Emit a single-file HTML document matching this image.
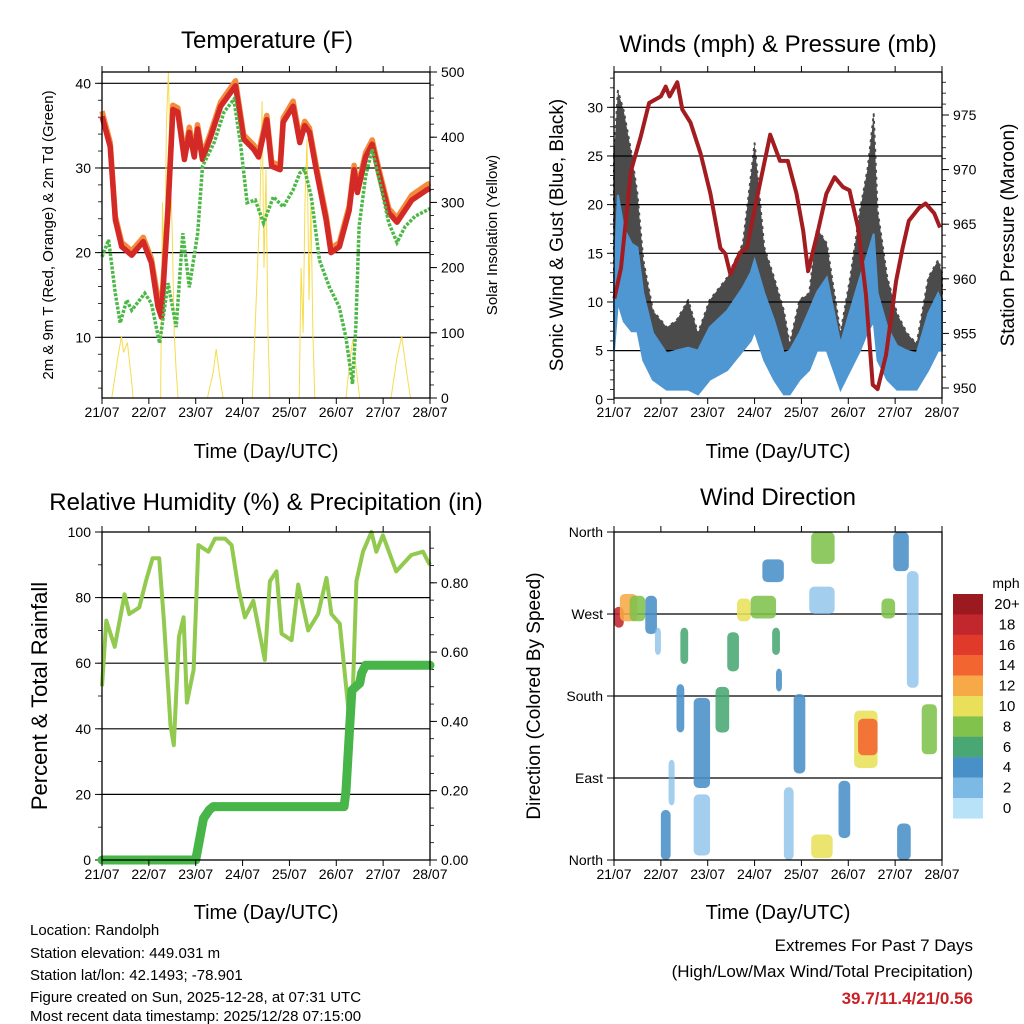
<!DOCTYPE html>
<html><head><meta charset="utf-8"><style>
html,body{margin:0;padding:0;background:#fff}
svg{display:block;font-family:"Liberation Sans",sans-serif}
</style></head><body>
<svg id="s" width="1024" height="1024" viewBox="0 0 1024 1024" xmlns="http://www.w3.org/2000/svg">
<g id="g"></g>
<text x="267" y="48" font-size="24" text-anchor="middle">Temperature (F)</text>
<text x="778" y="52" font-size="24" text-anchor="middle">Winds (mph) &amp; Pressure (mb)</text>
<text x="266" y="510" font-size="24" text-anchor="middle">Relative Humidity (%) &amp; Precipitation (in)</text>
<text x="778" y="505" font-size="24" text-anchor="middle">Wind Direction</text>
<text x="266" y="458" font-size="20" text-anchor="middle">Time (Day/UTC)</text>
<text x="778" y="458" font-size="20" text-anchor="middle">Time (Day/UTC)</text>
<text x="266" y="919" font-size="20" text-anchor="middle">Time (Day/UTC)</text>
<text x="778" y="919" font-size="20" text-anchor="middle">Time (Day/UTC)</text>
<text transform="translate(53,235) rotate(-90)" font-size="15" text-anchor="middle">2m &amp; 9m T (Red, Orange) &amp; 2m Td (Green)</text>
<text transform="translate(497,235) rotate(-90)" font-size="15" text-anchor="middle">Solar Insolation (Yellow)</text>
<text transform="translate(563,235) rotate(-90)" font-size="19" text-anchor="middle">Sonic Wind &amp; Gust (Blue, Black)</text>
<text transform="translate(1014,235) rotate(-90)" font-size="19" text-anchor="middle">Station Pressure (Maroon)</text>
<text transform="translate(47,696) rotate(-90)" font-size="22" text-anchor="middle">Percent &amp; Total Rainfall</text>
<text transform="translate(540,696) rotate(-90)" font-size="19" text-anchor="middle">Direction (Colored By Speed)</text>
<g font-size="15">
<text x="30" y="935">Location: Randolph</text>
<text x="30" y="958">Station elevation: 449.031 m</text>
<text x="30" y="980">Station lat/lon: 42.1493; -78.901</text>
<text x="30" y="1002">Figure created on Sun, 2025-12-28, at 07:31 UTC</text>
<text x="30" y="1024" dy="-3">Most recent data timestamp: 2025/12/28 07:15:00</text>
</g>
<g font-size="17" text-anchor="end">
<text x="973" y="951">Extremes For Past 7 Days</text>
<text x="973" y="977">(High/Low/Max Wind/Total Precipitation)</text>
<text x="973" y="1004" fill="#c82229" font-weight="bold">39.7/11.4/21/0.56</text>
</g>
</svg>
<script>
// ---- data ----
var dayLabels=["21/07","22/07","23/07","24/07","25/07","26/07","27/07","28/07"];
var tHours=[0,4.2,6.8,10.1,15.2,21.1,25.3,28.7,30.4,33.8,36.3,38.8,42.2,44.7,47.3,48.9,51.5,55.7,60.8,68.4,72.6,77.7,80.2,84.4,86.9,91.2,92.8,97.9,101.3,103.8,106.3,109.7,114.8,117.3,121.6,126.6,129.1,130.8,135,138.4,141.8,146.9,151.1,158.7,166.3,168];
var tempRed=[36.1,32.5,23.9,20.7,19.7,21.3,18.8,13.6,12.4,25,36.9,36.6,31,34.2,31.3,34.6,31,33.7,37.3,39.7,33.4,32.2,31.3,35.7,30.2,29.8,35.4,37.3,33,35,34.2,29.8,23.9,20,20.7,25,29.8,27.1,31.3,32.8,29.4,24.7,23.6,26.2,27.4,27.6];
var tempOrange=[36.7,33,24.3,21.2,20.2,21.8,19.3,14.6,13.4,25.5,37.4,37.1,31.5,34.8,31.8,35.1,31.5,34.2,37.8,40.3,33.9,32.7,31.8,36.2,30.7,30.3,35.9,37.9,33.5,35.5,34.7,30.3,24.4,20.5,21.2,25.5,30.3,27.6,31.8,33.3,29.9,25.2,24.1,26.8,28,28.2];
var tdHours=[0,3.4,6.8,9.3,12.7,15.2,21.9,25.3,29.5,33.8,38,41.4,44.7,49,51.5,57.4,62.5,67.5,70.9,74.3,78.5,82.7,87.8,92.8,97.9,101.3,103.8,107.2,111.4,116.5,121.5,124.9,128.3,130,131.7,135,138.4,143.5,146.9,151.1,155.3,160.4,166.3,168];
var dewpoint=[19.5,21.5,15.2,11.7,14.4,13.2,15.2,14,9.3,16.4,11.2,22.3,15.9,22.3,30.2,33,36.6,38.1,33,25.9,26.2,23.5,26.6,25.4,27.4,29.4,29.8,26.6,19.1,15.9,13.6,10,4.5,11.2,23.1,29,32.2,27.1,23.5,21.2,23.1,24.3,25,25.2];
var solarHours=[0,5,8,10,11,13,15,16,30,31,32,33,34,35,36,37,38,39,54,57,58.5,60,62,77,79,81,82,83,84,85,86,101,102,103,104,105,106,107,108,109,125,127,128.5,130,132,148,151,153.5,156,158,168];
var solar=[0,0,60,95,70,85,30,0,0,300,150,420,500,350,250,100,40,0,0,40,75,40,0,0,150,300,455,200,350,100,0,0,200,100,300,397,150,300,100,0,0,60,90,50,0,0,60,95,40,0,0];
var pHours=[0.2,3.6,8.7,13.7,18,24,26.5,28.5,32.4,35,39.2,44.3,49.4,54.5,57,59.6,64.6,68,73,80,85,89,93.5,96.9,99.4,104.5,108.8,113,117.3,120.6,125,129,132.5,135,139.3,144.5,147.8,151,156.3,159.6,164,167];
var pressure=[958.2,961,969.9,973,976.1,976.7,977.6,976.7,978,975.5,974.3,971.5,967.8,962.8,962.3,960.4,962.4,962.8,967.2,973.2,970.8,970.8,967.8,964.4,960.7,964.4,967.8,969.3,968.4,968.1,964.7,958.6,950.3,949.9,953,959.8,962.8,965.3,966.5,966.9,966,964.7];
var windHours=[0,2,5,9,12,15,20,27,32,38,43,49,58,66,70,72,77,82,87,90,95,100,104,109,116,121,126,130,133,135,140,145,150,155,161,166,168];
var gust=[25,31.7,29.6,25.2,21.1,14.3,9.1,7.4,8.1,10.2,6.8,10.2,12.5,16,22.8,26.3,15.6,12.5,9.1,5.7,10.2,10.9,17.6,16,6.8,12.5,19.4,23.8,29.3,19.4,12.5,8.8,6.8,5.7,12.5,14.3,13];
var sonicHi=[12,21,17.6,16,15.6,10.9,6.8,4.7,5,5.3,5,7.4,9.1,11.5,13,14.3,10.9,8.1,4.7,5,6.8,9.1,11,12.5,5.7,9.1,12.5,15,17,10.9,7.4,5.5,5,4.7,8.8,10.9,10];
var sonicLo=[5,10,8,7,7,4,2,1,1,1,0.5,2,3,5,6,7,4,2,0.5,0.5,2,3,5,5,1,3,5,7,8,4,2,1,1,1,3,5,5];
var rhHours=[0,2.2,6.5,11.6,14,19.1,22.5,25.9,29.3,31.7,35.1,36.8,39.4,41.8,43.5,46.9,49.4,54.5,57.9,63,66.4,69.8,73.2,77.5,83.4,86,89.4,92,97.1,100.5,105.6,110.7,115,117.5,121.8,127.7,130.3,133.7,138,140.5,143.9,150.7,158.4,164.4,167,168];
var rh=[53,73,65,81,75,77,85,92,92,73,41,35,68,74,48,58,96,94,98,98,96,83,74,79,61,85,88,69,67,84,70,75,86,75,72,37,85,94,100,94,99,88,93,94,91,90];
var precipHours=[0,48,50,52,55,57,124,125,126,127,128,132,133,135,168];
var precip=[0,0,0.06,0.12,0.145,0.154,0.154,0.2,0.3,0.4,0.49,0.51,0.54,0.562,0.562];
var dirStartHour=[0,3,8,16,21,24,28,32,34,38,38,52,58,63,70,76,81,83,90,87,101,100,101,115,119,125,137,143,148,155,145];
var dirEndHour=[5,12,16,22,24,29,31,36,38,52,52,59,64,70,83,87,85,86,100,92,113,113,112,121,139,135,144,151,158,168,152];
var dirLow=[255,262,262,248,225,0,60,140,215,79,5,140,207,262,265,305,225,185,95,0,325,270,2,24,101,115,265,317,189,116,0];
var dirHigh=[278,292,290,290,255,55,110,193,255,178,72,190,250,287,290,330,255,210,182,80,360,300,28,87,164,155,287,360,317,171,40];
var dirSpeed=[19,12,8,4,3,4,2,4,6,4,3,6,7,11,9,4,6,4,5,3,8,3,10,4,11,15,9,4,3,8,4];
var speedLabels=["20+","18","16","14","12","10","8","6","4","2","0"];
var speedColors=["#9b1a1f","#c1272d","#e03a2b","#f26530","#f8a947","#e8e05a","#80c24c","#48a772","#4a90c8","#7db9e5","#b7e2f8"];

// ---- helpers ----
var NS="http://www.w3.org/2000/svg",G=document.getElementById('g');
function mk(tag,at,parent){var e=document.createElementNS(NS,tag);for(var k in at)e.setAttribute(k,at[k]);(parent||G).appendChild(e);return e;}
function lin(d0,d1,r0,r1){return function(v){return r0+(v-d0)*(r1-r0)/(d1-d0);};}
function pathOf(xs,ys,fx,fy){var s='';for(var i=0;i<xs.length;i++)s+=(i?'L':'M')+fx(xs[i]).toFixed(1)+','+fy(ys[i]).toFixed(1);return s;}
function frame(L,T,R,B,name){
  var f=mk('rect',{x:L,y:T,width:R-L,height:B-T,fill:'none',stroke:'#000','stroke-width':1.3});
  
  
}
function xAxis(L,R,T,B,name){
  var fx=lin(0,168,L,R);
  for(var i=0;i<dayLabels.length;i++){
    var x=fx(i*24);
    var t=mk('line',{x1:x,x2:x,y1:B,y2:B+6,stroke:'#000','stroke-width':1});
    
    
    var t2=mk('line',{x1:x,x2:x,y1:T,y2:T-6,stroke:'#000','stroke-width':1});
    
    
    var lb=mk('text',{x:x,y:B+19,'font-size':14,'text-anchor':'middle'});
    lb.textContent=dayLabels[i];
    
    
  }
}
function yTicks(fy,vals,labels,x,side,grid,L,R,name,minor){
  for(var i=0;i<vals.length;i++){
    var y=fy(vals[i]);
    if(grid&&y>L.top+1&&y<L.bot-1){var g=mk('line',{x1:L.l,x2:L.r,y1:y,y2:y,stroke:'#000','stroke-width':1.2});
      
      }
    var tk=mk('line',{x1:x,x2:x+side*7,y1:y,y2:y,stroke:'#000','stroke-width':1});
    
    
    var lb=mk('text',{x:x+side*11,y:y+5,'font-size':14,'text-anchor':side<0?'end':'start'});
    lb.textContent=labels[i];
    
    
  }
  if(minor){for(var v=minor[0];v<=minor[1];v+=minor[2]){var yy=fy(v);if(yy<L.top||yy>L.bot)continue;
    var m=mk('line',{x1:x,x2:x+side*4,y1:yy,y2:yy,stroke:'#000','stroke-width':0.8});
    
    }}
}

// ---- panel 1: temperature ----
(function(){
  var L=102,R=430,T=72,B=398, fx=lin(0,168,L,R), fy=lin(10,40,337.3,83.3), fs=lin(0,500,398,72);
  var box={l:L,r:R,top:T,bot:B};
  yTicks(fy,[10,20,30,40],["10","20","30","40"],L,-1,true,box,R,'temp-y',[4,40,2]);
  yTicks(fs,[0,100,200,300,400,500],["0","100","200","300","400","500"],R,1,false,box,R,'solar-y',[0,500,20]);
  var s=mk('path',{d:pathOf(solarHours,solar,fx,fs),fill:'none',stroke:'#f5d83a','stroke-width':1,opacity:0.9});
  
  
  var o=mk('path',{d:pathOf(tHours,tempOrange,fx,fy),fill:'none',stroke:'#f58a3a','stroke-width':5.5,'stroke-linejoin':'round'});
  
  
  var r=mk('path',{d:pathOf(tHours,tempRed,fx,fy),fill:'none',stroke:'#d42a27','stroke-width':5.5,'stroke-linejoin':'round'});
  
  
  var d=mk('path',{d:pathOf(tdHours,dewpoint,fx,fy),fill:'none',stroke:'#4cb848','stroke-width':3.5,'stroke-dasharray':'3 1.5'});
  
  
  frame(L,T,R,B,'temp');
  xAxis(L,R,T,B,'temp');
})();

// ---- panel 2: winds & pressure ----
(function(){
  var L=614,R=942,T=72,B=398, fx=lin(0,168,L,R), fy=lin(0,30,399.3,107.3), fp=lin(975,950,115,388);
  var box={l:L,r:R,top:T,bot:B};
  yTicks(fy,[0,5,10,15,20,25,30],["0","5","10","15","20","25","30"],L,-1,true,box,R,'wind-y',[0,33,1]);
  yTicks(fp,[950,955,960,965,970,975],["950","955","960","965","970","975"],R,1,false,box,R,'pressure-y',[949,978,1]);
  var up='',i;
  for(i=0;i<windHours.length;i++)up+=(i?'L':'M')+fx(windHours[i]).toFixed(1)+','+fy(gust[i]).toFixed(1);
  for(i=windHours.length-1;i>=0;i--)up+='L'+fx(windHours[i]).toFixed(1)+','+fy(sonicHi[i]).toFixed(1);
  var ga=mk('path',{d:up+'Z',fill:'#000',opacity:0.7,stroke:'#000','stroke-width':2,'stroke-dasharray':'3 4','stroke-linejoin':'round'});
  
  
  var lo='';
  for(i=0;i<windHours.length;i++)lo+=(i?'L':'M')+fx(windHours[i]).toFixed(1)+','+fy(sonicHi[i]).toFixed(1);
  for(i=windHours.length-1;i>=0;i--)lo+='L'+fx(windHours[i]).toFixed(1)+','+fy(sonicLo[i]).toFixed(1);
  var sa=mk('path',{d:lo+'Z',fill:'#4f97d2',stroke:'#4f97d2','stroke-width':2});
  
  
  var p=mk('path',{d:pathOf(pHours,pressure,fx,fp),fill:'none',stroke:'#a31c20','stroke-width':4,'stroke-linejoin':'round'});
  
  
  frame(L,T,R,B,'wind');
  xAxis(L,R,T,B,'wind');
})();

// ---- panel 3: RH & precip ----
(function(){
  var L=102,R=430,T=532,B=860, fx=lin(0,168,L,R), fy=lin(0,100,860,532), fq=lin(0,0.2,860,790.7);
  var box={l:L,r:R,top:T,bot:B};
  yTicks(fy,[0,20,40,60,80,100],["0","20","40","60","80","100"],L,-1,true,box,R,'rh-y',[0,100,10]);
  yTicks(fq,[0,0.2,0.4,0.6,0.8],["0.00","0.20","0.40","0.60","0.80"],R,1,false,box,R,'precip-y',[0,0.94,0.05]);
  var h=mk('path',{d:pathOf(rhHours,rh,fx,fy),fill:'none',stroke:'#92c94f','stroke-width':4,'stroke-linejoin':'round'});
  
  
  var q=mk('path',{d:pathOf(precipHours,precip,fx,fq),fill:'none',stroke:'#47b548','stroke-width':9,'stroke-linejoin':'round','stroke-linecap':'round'});
  
  
  frame(L,T,R,B,'rh');
  xAxis(L,R,T,B,'rh');
})();

// ---- panel 4: wind direction ----
(function(){
  var L=614,R=942,T=532,B=860, fx=lin(0,168,L,R), fy=lin(0,360,860,532);
  var box={l:L,r:R,top:T,bot:B};
  yTicks(fy,[0,90,180,270,360],["North","East","South","West","North"],L,-1,true,box,R,'dir-y',null);
  for(var i=0;i<dirSpeed.length;i++){
    var ci=10-Math.min(10,Math.floor(dirSpeed[i]/2));
    var x0=fx(dirStartHour[i]),x1=fx(dirEndHour[i]),y0=fy(dirHigh[i]),y1=fy(dirLow[i]);
    var w=Math.max(6,x1-x0), cx=(x0+x1)/2;
    if(w>14 && y1-y0>50) w=Math.max(10,w*0.6);
    var c=mk('rect',{x:cx-w/2,y:y0,width:w,height:Math.max(6,y1-y0),rx:5,fill:speedColors[ci],opacity:dirSpeed[i]<4?0.7:0.88});
    
    
  }
  frame(L,T,R,B,'dir');
  xAxis(L,R,T,B,'dir');
  var u=mk('text',{x:1006,y:588,'font-size':14,'text-anchor':'middle'});
  u.textContent='mph';
  
  
  for(var k=0;k<speedColors.length;k++){
    var yy=594+k*20.4;
    var b=mk('rect',{x:953,y:yy,width:30,height:20.6,fill:speedColors[k]});
    
    
    var t=mk('text',{x:1007,y:yy+15,'font-size':15,'text-anchor':'middle'});
    t.textContent=speedLabels[k];
    
    
  }
})();
</script>
</body></html>
